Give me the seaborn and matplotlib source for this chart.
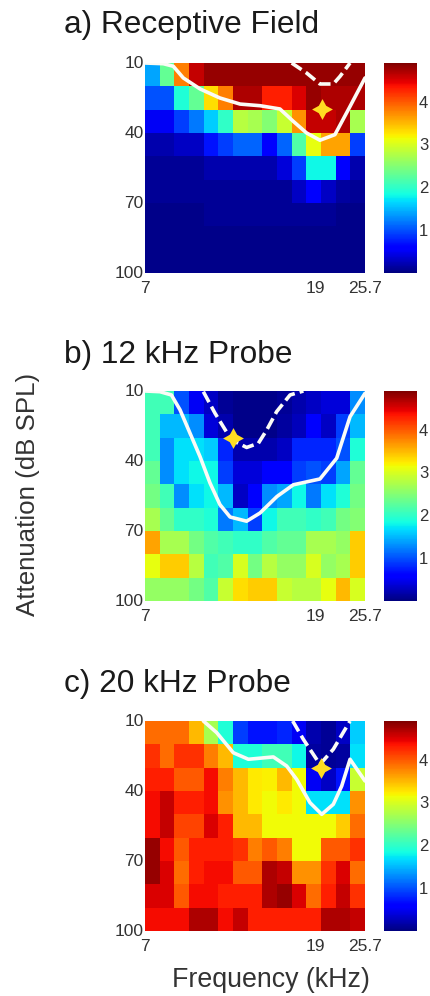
import numpy as np
import pandas as pd
from matplotlib import pyplot as plt
import seaborn as sns

sns.set_theme(style="white")
plt.rcParams["font.family"] = ["Liberation Sans", "DejaVu Sans"]

# Data: spike rate grids, rows are attenuation levels, columns frequency bins
receptive = [
    [1.4, 2.3, 3.8, 4.6, 4.8, 4.8, 4.8, 4.8, 4.8, 4.8, 4.8, 4.8, 4.8, 4.8, 4.8],
    [1.0, 1.0, 1.9, 2.3, 3.3, 3.8, 4.7, 4.7, 4.3, 4.3, 4.5, 4.8, 4.7, 4.7, 4.7],
    [0.5, 0.5, 0.9, 1.2, 1.6, 2.0, 2.8, 2.7, 2.5, 2.9, 3.7, 4.6, 4.6, 4.7, 2.7],
    [0.2, 0.2, 0.3, 0.3, 0.7, 0.9, 1.1, 1.1, 0.6, 1.1, 2.2, 3.1, 3.6, 3.6, 0.9],
    [0.1, 0.1, 0.1, 0.1, 0.2, 0.2, 0.2, 0.2, 0.2, 0.4, 0.9, 1.8, 1.8, 0.6, 0.2],
    [0.1, 0.1, 0.1, 0.1, 0.1, 0.1, 0.1, 0.1, 0.1, 0.1, 0.3, 0.6, 0.3, 0.15, 0.1],
    [0.05, 0.05, 0.05, 0.05, 0.1, 0.1, 0.1, 0.1, 0.1, 0.1, 0.1, 0.1, 0.1, 0.05, 0.05],
    [0.05, 0.05, 0.05, 0.05, 0.05, 0.05, 0.05, 0.05, 0.05, 0.05, 0.05, 0.05, 0.05, 0.05, 0.05],
    [0.05, 0.05, 0.05, 0.05, 0.05, 0.05, 0.05, 0.05, 0.05, 0.05, 0.05, 0.05, 0.05, 0.05, 0.05],
]
probe_12 = [
    [2.1, 2.1, 1.0, 0.5, 0.3, 0.1, 0.05, 0.05, 0.05, 0.1, 0.2, 0.3, 0.4, 0.4, 1.3],
    [2.1, 1.5, 1.5, 1.3, 0.4, 0.2, 0.05, 0.05, 0.05, 0.15, 0.25, 0.6, 0.3, 0.9, 1.5],
    [2.1, 1.3, 1.7, 1.7, 1.6, 0.8, 0.2, 0.2, 0.2, 0.3, 0.8, 0.8, 0.8, 1.0, 1.9],
    [2.3, 1.3, 1.7, 1.8, 1.8, 0.9, 0.4, 0.4, 0.6, 0.6, 0.9, 1.0, 0.9, 1.4, 2.3],
    [2.4, 2.1, 1.3, 1.7, 1.8, 1.5, 0.3, 0.6, 1.3, 1.4, 1.8, 1.2, 1.7, 1.9, 2.4],
    [2.7, 2.3, 2.0, 2.0, 1.9, 1.2, 1.5, 0.9, 1.8, 2.1, 2.1, 2.0, 2.1, 2.4, 2.5],
    [3.6, 2.7, 2.7, 2.4, 2.2, 2.1, 2.0, 2.0, 2.2, 2.3, 2.3, 2.7, 2.7, 2.6, 3.4],
    [3.1, 3.4, 3.4, 2.8, 2.1, 2.2, 3.0, 2.4, 2.8, 2.6, 2.6, 3.0, 2.6, 2.7, 3.4],
    [2.6, 2.6, 2.6, 2.4, 2.2, 2.9, 3.3, 3.4, 3.4, 2.9, 2.8, 2.8, 3.1, 3.5, 3.0],
]
probe_20 = [
    [3.9, 3.9, 3.9, 3.5, 2.7, 1.9, 0.9, 0.7, 0.7, 0.8, 0.5, 0.2, 0.1, 0.3, 1.6],
    [4.2, 3.9, 4.2, 4.2, 3.8, 3.5, 1.9, 1.9, 2.1, 2.1, 1.8, 0.15, 0.1, 0.15, 1.7],
    [4.3, 4.3, 4.0, 4.0, 4.4, 3.8, 3.5, 3.25, 3.2, 3.5, 3.15, 0.5, 0.3, 0.7, 2.9],
    [4.4, 4.6, 4.3, 4.3, 4.4, 3.7, 3.5, 3.25, 3.15, 3.25, 3.15, 1.7, 1.7, 1.7, 3.7],
    [4.4, 4.6, 4.1, 4.1, 4.5, 4.3, 3.5, 3.5, 3.15, 3.15, 3.15, 3.15, 3.15, 3.4, 3.9],
    [4.8, 4.4, 4.0, 4.3, 4.3, 4.3, 4.2, 3.8, 4.0, 3.8, 3.15, 3.15, 4.0, 4.0, 4.2],
    [4.8, 4.5, 3.9, 4.3, 4.4, 4.4, 4.0, 4.0, 4.7, 4.6, 3.7, 3.7, 4.2, 4.5, 3.9],
    [4.5, 4.5, 4.0, 4.4, 4.4, 4.3, 4.3, 4.3, 4.7, 4.8, 4.5, 3.9, 4.3, 4.6, 4.2],
    [4.4, 4.4, 4.4, 4.7, 4.7, 4.4, 4.6, 4.3, 4.3, 4.3, 4.3, 4.3, 4.7, 4.7, 4.6],
]

# Contours and best frequency markers, in grid units (column, row)
solid_a_x = [0, 1.25, 1.93, 2.61, 3.75, 5.11, 6.48, 7.84, 9.2, 10.11, 11.02, 11.93, 12.95, 13.98, 15]
solid_a_y = [0, 0.03, 0.14, 0.64, 1.11, 1.5, 1.76, 1.83, 1.97, 2.5, 3.0, 3.31, 3.07, 1.86, 0.64]
dash_a_x = [10, 11.02, 11.93, 12.84, 13.3, 13.98]
dash_a_y = [0, 0.43, 0.9, 0.9, 0.57, 0]
solid_b_x = [0, 1.02, 1.8, 2.39, 3.07, 3.75, 4.43, 5.11, 5.8, 6.93, 7.84, 9, 10.11, 11.93, 13.07, 13.98, 15]
solid_b_y = [0, 0.03, 0.17, 0.81, 1.81, 2.81, 3.94, 4.87, 5.4, 5.58, 5.23, 4.52, 4.02, 3.77, 2.88, 1.1, 0.1]
dash_b_x = [3.98, 4.77, 5.68, 6.14, 6.93, 7.73, 8.3, 8.98, 9.89, 10.8]
dash_b_y = [0.03, 0.95, 1.88, 2.17, 2.42, 2.24, 1.67, 0.88, 0.17, 0]
solid_c_x = [3.98, 4.89, 6.02, 7.05, 8.75, 9.66, 10.34, 11.25, 12.05, 12.84, 13.41, 13.98, 15]
solid_c_y = [0, 0.5, 1.36, 1.64, 1.54, 1.93, 2.5, 3.5, 4, 3.57, 2.79, 1.64, 2.57]
dash_c_x = [10.07, 10.8, 11.93, 12.84, 13.98]
dash_c_y = [0, 0.79, 1.86, 1.21, 0]
star_x = [12.05, 5.98, 12]
star_y = [1.96, 2.02, 2]

titles = ["a) Receptive Field", "b) 12 kHz Probe", "c) 20 kHz Probe"]
y_tick_pos = [0, 3, 6, 9]
y_tick_labels = ["10", "40", "70", "100"]
x_tick_pos = [0, 11.6, 15]
x_tick_labels = ["7", "19", "25.7"]
cbar_ticks = [1, 2, 3, 4]

grids = [receptive, probe_12, probe_20]
solids = [(solid_a_x, solid_a_y), (solid_b_x, solid_b_y), (solid_c_x, solid_c_y)]
dashes = [(dash_a_x, dash_a_y), (dash_b_x, dash_b_y), (dash_c_x, dash_c_y)]

W, H = 430, 996
tops = [63, 391, 721]
title_base = [33, 363, 692]
ax_h = 210
txt = "#333333"

fig = plt.figure(figsize=(W / 100, H / 100), dpi=100)

for i in range(3):
    bottom = 1 - (tops[i] + ax_h) / H
    ax = fig.add_axes([145 / W, bottom, 220 / W, ax_h / H])
    cax = fig.add_axes([384 / W, bottom, 33 / W, ax_h / H])
    sns.heatmap(pd.DataFrame(grids[i]), ax=ax, cbar_ax=cax, cmap="jet", vmin=0, vmax=4.9,
                cbar_kws={"ticks": cbar_ticks}, linewidths=0)
    ax.plot(solids[i][0], solids[i][1], color="#fbfbf6", lw=2.6, solid_joinstyle="round")
    ax.plot(dashes[i][0], dashes[i][1], color="#fbfbf6", lw=2.6, dashes=(3.3, 1.4))
    ax.plot(star_x[i], star_y[i], marker=(4, 1, 0), color="#FFDD22", ms=15, mew=0)

    # axis ticks: labels only, small inward marks along the top
    ax.set_xticks(x_tick_pos)
    ax.set_xticklabels(x_tick_labels, rotation=0, fontsize=12.5, color=txt)
    ax.set_yticks(y_tick_pos)
    ax.set_yticklabels(y_tick_labels, rotation=0, fontsize=12.5, color=txt)
    ax.tick_params(axis="x", length=0, pad=5.5)
    ax.tick_params(axis="y", length=0, pad=1)
    ax.set_xticks(np.arange(1, 15), minor=True)
    ax.tick_params(axis="x", which="minor", top=True, bottom=False, direction="in", length=2, width=0.7, color="#222222")
    cax.tick_params(length=0, labelsize=12, pad=1.5, labelcolor=txt)
    fig.text(64 / W, 1 - title_base[i] / H, titles[i], fontsize=22.8, color="#1a1a1a", va="baseline", ha="left")

fig.text(28 / W, 1 - 494 / H, "Attenuation (dB SPL)", rotation=90, fontsize=18.6, color=txt, va="center", ha="center")
fig.text(271 / W, 1 - 987 / H, "Frequency (kHz)", fontsize=19.3, color=txt, va="baseline", ha="center")

fig.savefig("out.png", dpi=100)
